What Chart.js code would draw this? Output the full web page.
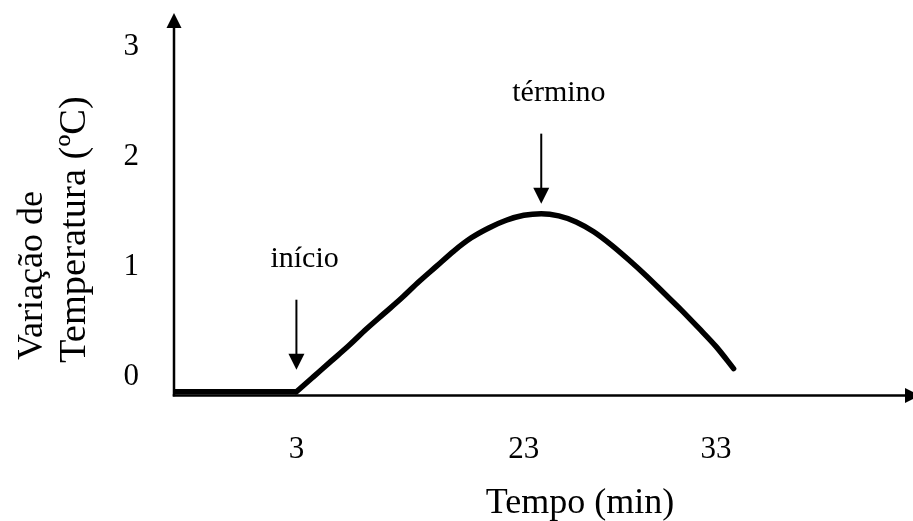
<!DOCTYPE html>
<html lang="pt">
<head>
<meta charset="utf-8">
<title>Variação de temperatura</title>
<script src="https://cdn.jsdelivr.net/npm/chart.js@4.4.1/dist/chart.umd.min.js"></script>
<style>
  html, body { margin: 0; padding: 0; background: #fff; }
  #grafico { display: block; }
</style>
</head>
<body>
<canvas id="grafico" width="913" height="521"></canvas>
<script>
// amostras igualmente espaçadas no eixo do tempo; só três recebem rótulo
const tempos = [
  '', '', '', '', '', '', '', '3', '', '',
  '', '', '', '', '', '', '', '', '', '',
  '23', '', '', '', '', '', '', '', '', '',
  '', '33', '', '', '', '', '', '', '', '',
  '', ''
];

// patamar antes do início da reação
const patamar = [0, 0, 0, 0, 0, 0, 0, 0];

// variação de temperatura a partir da amostra de início
const inicioCurva = 7;
const variacao = [
  0, 0.14, 0.28, 0.42, 0.57, 0.71, 0.85, 1.0, 1.14, 1.28,
  1.40, 1.49, 1.56, 1.605, 1.62, 1.60, 1.545, 1.455, 1.336, 1.2,
  1.055, 0.9, 0.745, 0.58, 0.41, 0.21
];

const rotulosY = ['0', '1', '2', '3'];
const marcos = ['início', 'término'];
const amostraMarcos = [7, 21];

const fonte = 'Liberation Serif, Times New Roman, serif';

const curva = new Array(inicioCurva).fill(null).concat(variacao);

function seta(ctx, x, y0, y1) {
  // seta vertical apontando para baixo, de y0 até a ponta em y1
  ctx.beginPath();
  ctx.moveTo(x, y0);
  ctx.lineTo(x, y1 - 14);
  ctx.stroke();
  ctx.beginPath();
  ctx.moveTo(x, y1);
  ctx.lineTo(x - 8, y1 - 16);
  ctx.lineTo(x + 8, y1 - 16);
  ctx.closePath();
  ctx.fill();
}

const desenhos = {
  id: 'desenhos',
  beforeDatasetsDraw(chart) {
    const { ctx, chartArea: a } = chart;
    ctx.save();
    ctx.strokeStyle = '#000';
    ctx.fillStyle = '#000';
    ctx.lineWidth = 2.5;

    // eixo vertical
    ctx.beginPath();
    ctx.moveTo(a.left, a.bottom + 1.25);
    ctx.lineTo(a.left, 26);
    ctx.stroke();
    ctx.beginPath();
    ctx.moveTo(a.left, 13);
    ctx.lineTo(a.left - 7.5, 28);
    ctx.lineTo(a.left + 7.5, 28);
    ctx.closePath();
    ctx.fill();

    // eixo horizontal
    ctx.beginPath();
    ctx.moveTo(a.left - 1.25, a.bottom + 0.5);
    ctx.lineTo(907, a.bottom + 0.5);
    ctx.stroke();
    ctx.beginPath();
    ctx.moveTo(920, a.bottom + 0.5);
    ctx.lineTo(905, a.bottom - 7);
    ctx.lineTo(905, a.bottom + 8);
    ctx.closePath();
    ctx.fill();
    ctx.restore();
  },
  afterDraw(chart) {
    const { ctx } = chart;
    const xs = chart.scales.x;
    const ys = chart.scales.y;
    const folga = [22, 10];
    const recuo = [26, 29];
    ctx.save();
    ctx.strokeStyle = '#000';
    ctx.fillStyle = '#000';
    ctx.lineWidth = 2;
    ctx.font = '30px ' + fonte;
    ctx.textAlign = 'left';
    ctx.textBaseline = 'alphabetic';

    marcos.forEach((texto, i) => {
      const k = amostraMarcos[i];
      const x = xs.getPixelForValue(k);
      const valor = k < inicioCurva ? patamar[k] : curva[k];
      const ponta = ys.getPixelForValue(valor) - folga[i];
      const topo = ponta - 70;
      seta(ctx, x, topo, ponta);
      ctx.fillText(texto, x - recuo[i], topo - 33);
    });

    // títulos dos eixos
    ctx.font = '36px ' + fonte;
    ctx.textAlign = 'center';
    ctx.fillText('Tempo (min)', 580, 513);

    ctx.rotate(-Math.PI / 2);
    ctx.textAlign = 'left';
    ctx.fillText('Variação de', -360, 42);
    ctx.font = '38.5px ' + fonte;
    ctx.fillText('Temperatura (ºC)', -363, 85);
    ctx.restore();
  }
};

new Chart(document.getElementById('grafico'), {
  type: 'line',
  data: {
    labels: tempos,
    datasets: [
      {
        data: patamar,
        borderColor: '#000',
        borderWidth: 5.5,
        borderCapStyle: 'butt',
        pointRadius: 0,
        tension: 0
      },
      {
        data: curva,
        borderColor: '#000',
        borderWidth: 5.5,
        borderCapStyle: 'round',
        borderJoinStyle: 'round',
        pointRadius: 0,
        cubicInterpolationMode: 'monotone'
      }
    ]
  },
  options: {
    responsive: false,
    animation: false,
    events: [],
    layout: { padding: { top: 29, right: 22, left: 0, bottom: 0 } },
    plugins: {
      legend: { display: false },
      tooltip: { enabled: false }
    },
    scales: {
      x: {
        grid: { display: false, drawTicks: false },
        border: { display: false },
        ticks: {
          autoSkip: false,
          maxRotation: 0,
          padding: 36,
          color: '#000',
          font: { family: fonte, size: 31 }
        },
        afterFit: s => {
          s.height = 126;
          s.paddingLeft = 0;
          s.paddingRight = 0;
        }
      },
      y: {
        min: -0.03,
        max: 3.3,
        grid: { display: false, drawTicks: false },
        border: { display: false },
        afterBuildTicks: s => {
          s.ticks = rotulosY.map(r => ({ value: Number(r) }));
        },
        ticks: {
          padding: 35,
          labelOffset: -15,
          color: '#000',
          font: { family: fonte, size: 31 },
          callback: (v, i) => rotulosY[i]
        },
        afterFit: s => {
          s.width = 174;
          s.paddingTop = 0;
          s.paddingBottom = 0;
        }
      }
    }
  },
  plugins: [desenhos]
});
</script>
</body>
</html>
